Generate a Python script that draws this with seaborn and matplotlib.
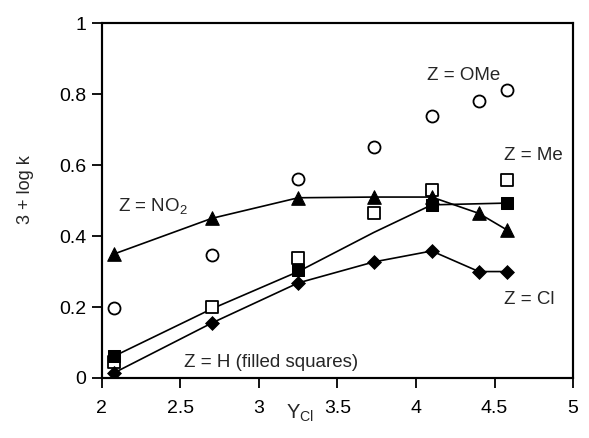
import matplotlib
matplotlib.use("Agg")
import matplotlib.pyplot as plt
from matplotlib.patches import Rectangle
import seaborn as sns

# Y_Cl values
y_cl = [2.08, 2.7, 3.25, 3.73, 4.1, 4.4, 4.58]

# measured points (3 + log k)
ome = [0.197, 0.346, 0.56, 0.651, 0.738, 0.78, 0.811]
no2 = [0.35, 0.45, 0.508, 0.51, 0.51, 0.464, 0.417]
cl = [0.015, 0.155, 0.268, 0.327, 0.358, 0.30, 0.30]
me_x = [2.08, 2.7, 3.25, 3.73, 4.1, 4.58]
me = [0.045, 0.20, 0.337, 0.465, 0.53, 0.558]
h_x = [2.08, 3.25, 4.1, 4.58]
h = [0.063, 0.305, 0.488, 0.493]

# fitted curve for Z = H
h_fit_x = [2.08, 2.7, 3.25, 3.73, 4.1, 4.58]
h_fit = [0.062, 0.195, 0.30, 0.41, 0.488, 0.493]

sns.set_style("ticks", {"axes.spines.top": True, "axes.spines.right": True})
plt.rcParams['font.family'] = ['Liberation Sans', 'DejaVu Sans']
plt.rcParams['mathtext.fontset'] = 'custom'
plt.rcParams['mathtext.rm'] = 'Liberation Sans'

fig = plt.figure(figsize=(5.89, 4.38), dpi=100)
ax = fig.add_axes([0.173, 0.137, 0.80, 0.810])

lw = 1.2
sns.lineplot(x=y_cl, y=no2, color='black', linewidth=lw, ax=ax, sort=False)
sns.lineplot(x=y_cl, y=cl, color='black', linewidth=lw, ax=ax, sort=False)
sns.lineplot(x=h_fit_x, y=h_fit, color='black', linewidth=lw, ax=ax, sort=False)

sns.scatterplot(x=y_cl, y=ome, marker='o', s=75, facecolor='white',
                edgecolor='black', linewidth=1.3, ax=ax, zorder=3)
sns.scatterplot(x=me_x, y=me, marker='s', s=85, facecolor='white',
                edgecolor='black', linewidth=1.3, ax=ax, zorder=3)
sns.scatterplot(x=h_x, y=h, marker='s', s=85, color='black',
                edgecolor='black', ax=ax, zorder=4)
sns.scatterplot(x=y_cl, y=no2, marker='^', s=95, color='black',
                edgecolor='black', ax=ax, zorder=4)
sns.scatterplot(x=y_cl, y=cl, marker='D', s=50, color='black',
                edgecolor='black', ax=ax, zorder=4)

ax.set_xlim(2, 5)
ax.set_ylim(0, 1)
ax.set_xticks([2, 2.5, 3, 3.5, 4, 4.5, 5])
ax.set_xticklabels(['2', '2.5', '3', '3.5', '4', '4.5', '5'])
ax.set_yticks([0, 0.2, 0.4, 0.6, 0.8, 1])
ax.set_yticklabels(['0', '0.2', '0.4', '0.6', '0.8', '1'])
ax.tick_params(labelsize=14, length=7, width=1.3, direction='out', colors='black')
ax.tick_params(axis='x', pad=9)
ax.tick_params(axis='y', pad=4)
for sp in ax.spines.values():
    sp.set_visible(True)
    sp.set_linewidth(1.5)
    sp.set_color('black')

# full frame around the plot area
ax.add_patch(Rectangle((0, 0), 1, 1, transform=ax.transAxes, fill=False,
                       edgecolor='black', linewidth=1.5, clip_on=False, zorder=5))

ax.set_xlabel('Y$_{\\mathregular{Cl}}$', fontsize=14.5)
ax.xaxis.set_label_coords(0.42, -0.07)
ax.set_ylabel('3 + log k', fontsize=13)
ax.yaxis.set_label_coords(-0.145, 0.53)

fs = 13.5
ax.text(4.07, 0.854, 'Z = OMe', fontsize=fs, ha='left', va='center')
ax.text(4.56, 0.628, 'Z = Me', fontsize=fs, ha='left', va='center')
ax.text(2.10, 0.482, 'Z = NO$_\\mathregular{2}$', fontsize=fs, ha='left', va='center')
ax.text(4.56, 0.22, 'Z = Cl', fontsize=fs, ha='left', va='center')
ax.text(2.52, 0.045, 'Z = H (filled squares)', fontsize=fs, ha='left', va='center')

fig.savefig("out.png", dpi=100)
